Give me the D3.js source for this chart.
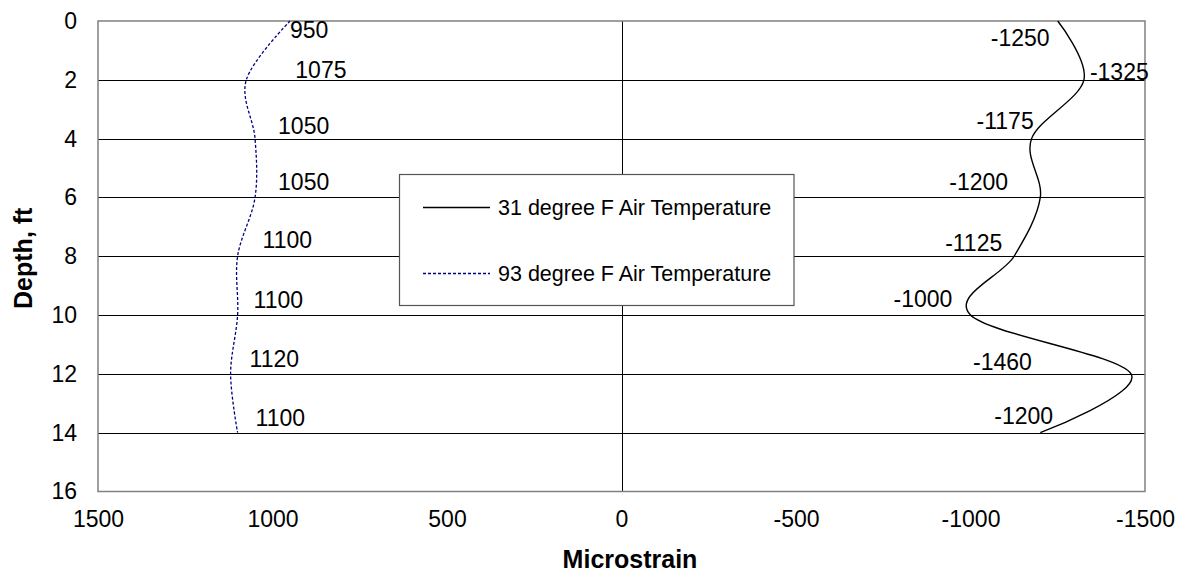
<!DOCTYPE html>
<html>
<head>
<meta charset="utf-8">
<script src="https://cdn.jsdelivr.net/npm/d3@7/dist/d3.min.js"></script>
<style>
  html, body { margin: 0; padding: 0; background: #fff; }
  svg { display: block; font-family: "Liberation Sans", Arial, sans-serif; }
</style>
</head>
<body>
<svg id="chart" width="1181" height="574"></svg>
<script>
// Depth of each gauge reading (ft)
const depths = [0, 2, 4, 6, 8, 10, 12, 14];
// Strain at each depth (microstrain)
const cold31 = [-1250, -1325, -1175, -1200, -1125, -1000, -1460, -1200];
const hot93 = [950, 1075, 1050, 1050, 1100, 1100, 1120, 1100];
const seriesNames = ["31 degree F Air Temperature", "93 degree F Air Temperature"];
const xTicks = [1500, 1000, 500, 0, -500, -1000, -1500];
const yTicks = [0, 2, 4, 6, 8, 10, 12, 14, 16];

// Hand-placed value label nudges (px from the point: [dx, dy to baseline])
const hotLabelNudge = [[0, 17], [49, -2], [23, -5], [23, -7], [25, -8], [16, -7], [19, -7], [18, -7]];
const coldLabelNudge = [[-67, 25], [6, 0], [-55, -10], [-91, -7], [-69, -5], [-77, -8], [-158, -4], [-46, -9]];

const svg = d3.select("#chart");
const plotL = 98, plotR = 1145, plotT = 21, plotB = 491.5;

const x = d3.scaleLinear().domain([1500, -1500]).range([plotL, plotR]);
const y = d3.scaleLinear().domain([0, 16]).range([plotT, plotB]);

// Plain hyphen-minus for negative numbers
const fmt = d => String(d);

// Horizontal grid lines
svg.append("g")
  .selectAll("line")
  .data(yTicks.filter(d => d > 0 && d < 16))
  .join("line")
  .attr("x1", plotL).attr("x2", plotR)
  .attr("y1", d => Math.round(y(d)) + 0.5).attr("y2", d => Math.round(y(d)) + 0.5)
  .attr("stroke", "#000").attr("stroke-width", 1);

// Zero-strain line
svg.append("line")
  .attr("x1", Math.round(x(0)) + 0.5).attr("x2", Math.round(x(0)) + 0.5)
  .attr("y1", plotT).attr("y2", plotB)
  .attr("stroke", "#000").attr("stroke-width", 1);

// Plot frame
svg.append("rect")
  .attr("x", plotL).attr("y", plotT)
  .attr("width", plotR - plotL).attr("height", plotB - plotT)
  .attr("fill", "none").attr("stroke", "#808080").attr("stroke-width", 1.5);

// Axes
const yAxis = svg.append("g")
  .attr("transform", `translate(${plotL},0)`)
  .call(d3.axisLeft(y).tickValues(yTicks).tickSize(0).tickPadding(21).tickFormat(fmt));
yAxis.select(".domain").remove();
yAxis.selectAll("text").attr("font-size", 23).attr("fill", "#000")
  .attr("font-family", "'Liberation Sans', Arial, sans-serif");

const xAxis = svg.append("g")
  .attr("transform", `translate(0,${plotB})`)
  .call(d3.axisBottom(x).tickValues(xTicks).tickSize(0).tickPadding(19).tickFormat(fmt));
xAxis.select(".domain").remove();
xAxis.selectAll("text").attr("font-size", 23).attr("fill", "#000")
  .attr("font-family", "'Liberation Sans', Arial, sans-serif");

// Axis titles
svg.append("text")
  .attr("x", 630).attr("y", 568)
  .attr("text-anchor", "middle")
  .attr("font-size", 25).attr("font-weight", "bold")
  .text("Microstrain");

svg.append("text")
  .attr("transform", `translate(32,${(plotT + plotB) / 2 + 2}) rotate(-90)`)
  .attr("text-anchor", "middle")
  .attr("font-size", 25).attr("font-weight", "bold")
  .text("Depth, ft");

// Smoothed strain profiles
const line = vals => d3.line()
  .x((d, i) => x(vals[i]))
  .y(d => y(d))
  .curve(d3.curveCatmullRom.alpha(0))(depths);

svg.append("path")
  .attr("d", line(cold31))
  .attr("fill", "none").attr("stroke", "#000").attr("stroke-width", 1.4);

svg.append("path")
  .attr("d", line(hot93))
  .attr("fill", "none").attr("stroke", "#000080").attr("stroke-width", 1.3)
  .attr("stroke-dasharray", "3,2");

// Value labels
function labels(vals, nudge) {
  svg.append("g")
    .selectAll("text")
    .data(vals)
    .join("text")
    .attr("x", (d, i) => x(d) + nudge[i][0])
    .attr("y", (d, i) => y(depths[i]) + nudge[i][1])
    .attr("font-size", 23).attr("fill", "#000")
    .text(fmt);
}
labels(hot93, hotLabelNudge);
labels(cold31, coldLabelNudge);

// Legend
const lg = svg.append("g");
lg.append("rect")
  .attr("x", 399.5).attr("y", 174.5).attr("width", 394.5).attr("height", 131)
  .attr("fill", "#fff").attr("stroke", "#555").attr("stroke-width", 1.2);
const legendItems = [
  { name: seriesNames[0], color: "#000", dash: null, cy: 207.5 },
  { name: seriesNames[1], color: "#000080", dash: "3,2", cy: 273.5 }
];
legendItems.forEach(it => {
  lg.append("line")
    .attr("x1", 423).attr("x2", 490).attr("y1", it.cy).attr("y2", it.cy)
    .attr("stroke", it.color).attr("stroke-width", 1.3)
    .attr("stroke-dasharray", it.dash);
  lg.append("text")
    .attr("x", 498).attr("y", it.cy + 7.5)
    .attr("font-size", 21.5).attr("fill", "#000")
    .text(it.name);
});
</script>
</body>
</html>
